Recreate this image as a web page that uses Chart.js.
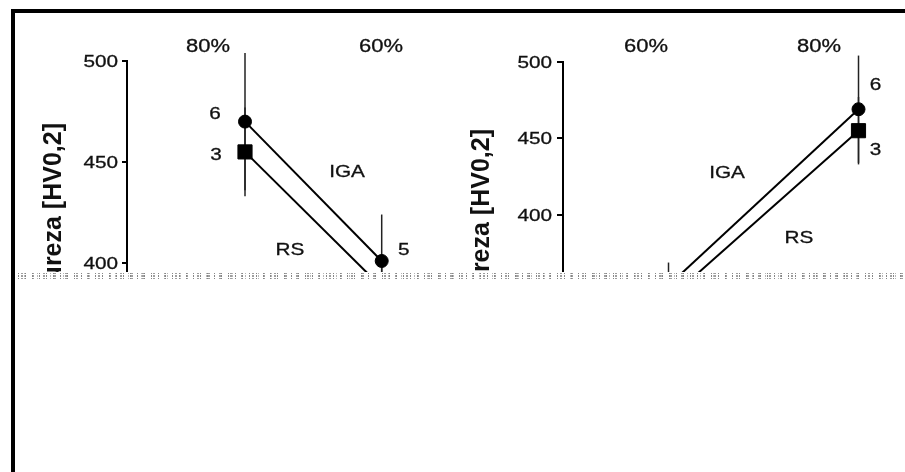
<!DOCTYPE html>
<html>
<head>
<meta charset="utf-8">
<script src="https://cdn.jsdelivr.net/npm/chart.js@4.4.0/dist/chart.umd.min.js"></script>
<style>
  html, body { margin: 0; padding: 0; background: #fff; }
  body { width: 905px; height: 472px; position: relative; overflow: hidden; }
  #frame {
    position: absolute; left: 11px; top: 9px; width: 894px; height: 463px;
    border-left: 4px solid #000; border-top: 4px solid #000; box-sizing: border-box;
  }
  .panel { position: absolute; top: 13px; height: 259px; overflow: hidden; }
  #left-wrap { left: 15px; width: 440px; }
  #right-wrap { left: 455px; width: 450px; }
  #noise {
    position: absolute; left: 15px; top: 272px; width: 890px; height: 7px; opacity: 0.7;
    background-image:
      repeating-linear-gradient(90deg, transparent 0 3px, #555 3px 4px, transparent 4px 7px),
      repeating-linear-gradient(90deg, transparent 0 6px, #777 6px 8px, transparent 8px 11px),
      repeating-linear-gradient(90deg, transparent 0 9px, #999 9px 10px, transparent 10px 13px);
    -webkit-mask-image: repeating-linear-gradient(0deg, #000 0 1px, transparent 1px 2px, #000 2px 4px, transparent 4px 5px);
  }
</style>
</head>
<body>
<div id="frame"></div>
<div class="panel" id="left-wrap"><canvas id="left" width="440" height="460"></canvas></div>
<div class="panel" id="right-wrap"><canvas id="right" width="450" height="460"></canvas></div>
<div id="noise"></div>
<script>
// left panel: 80% -> 60%
const pctLeft = ["80%", "60%"];
const igaLeft = [470, 401];
const igaLeftErr = [34, 23];
const rsLeft = [455, 388];
const rsLeftErr = [22, 10];
const nIgaLeft = ["6", "5"];
const nRsLeft = ["3", null];

// right panel: 60% -> 80%
const pctRight = ["60%", "80%"];
const igaRight = [354, 469];
const igaRightErr = [15, 35];
const rsRight = [345, 455];
const rsRightErr = [12, 22];
const nIgaRight = [null, "6"];
const nRsRight = [null, "3"];

const yTitle = "Dureza [HV0,2]";

// stretched sans text, the scanned figure is wider than plain Arial
function wideText(ctx, s, x, y, align) {
  ctx.save();
  ctx.translate(x, y);
  ctx.scale(1.22, 1);
  ctx.textAlign = align || "center";
  ctx.textBaseline = "alphabetic";
  ctx.fillText(s, 0, 6);
  ctx.strokeText(s, 0, 6);
  ctx.restore();
}

const extras = {
  id: "extras",
  beforeDatasetsDraw(chart, args, o) {
    const ctx = chart.ctx, xs = chart.scales.x, ys = chart.scales.y;
    ctx.save();
    ctx.strokeStyle = "#222";
    ctx.lineWidth = 1.5;
    chart.data.datasets.forEach(ds => {
      ds.data.forEach((p, i) => {
        const e = ds.err[i];
        const px = xs.getPixelForValue(p.x);
        ctx.beginPath();
        ctx.moveTo(px, ys.getPixelForValue(p.y + e));
        ctx.lineTo(px, ys.getPixelForValue(p.y - e));
        ctx.stroke();
      });
    });
    ctx.restore();
  },
  afterDraw(chart, args, o) {
    const ctx = chart.ctx, xs = chart.scales.x, ys = chart.scales.y;
    ctx.save();
    ctx.fillStyle = "#111";
    ctx.strokeStyle = "#111";
    ctx.lineWidth = 0.3;
    ctx.font = "17px 'Liberation Sans', Arial, sans-serif";
    // y tick labels
    ys.ticks.forEach(t => {
      wideText(ctx, String(t.value), chart.chartArea.left - o.tickGap, ys.getPixelForValue(t.value), "right");
    });
    // n per point
    chart.data.datasets.forEach((ds, d) => {
      ds.data.forEach((p, i) => {
        if (!ds.n[i]) return;
        const off = o.nOff[d][i];
        wideText(ctx, ds.n[i], xs.getPixelForValue(p.x) + off[0], ys.getPixelForValue(p.y) + off[1]);
      });
    });
    // series names
    o.names.forEach(t => wideText(ctx, t.s, t.x, t.y));
    // percentages on top
    ctx.font = "18px 'Liberation Sans', Arial, sans-serif";
    o.pct.forEach((s, i) => wideText(ctx, s, o.pctX[i], o.pctY));
    // y title
    ctx.font = "bold 25px 'Liberation Sans', Arial, sans-serif";
    ctx.translate(o.titleX, o.titleY);
    ctx.rotate(-Math.PI / 2);
    ctx.textAlign = "right";
    ctx.textBaseline = "alphabetic";
    ctx.fillText(yTitle, 0, 0);
    ctx.restore();
  }
};

function series(vals, err, n, style, r) {
  return {
    data: vals.map((v, i) => ({ x: i + 1, y: v })),
    err: err,
    n: n,
    borderColor: "#000",
    borderWidth: 2,
    pointStyle: style,
    pointRadius: r,
    pointBackgroundColor: "#000",
    pointBorderColor: "#000",
    pointBorderWidth: 1,
    tension: 0,
    clip: false
  };
}

function panel(id, sets, xr, yr, pad, axisW, tickLen, extraOpts) {
  return new Chart(document.getElementById(id), {
    type: "line",
    data: { datasets: sets },
    plugins: [extras],
    options: {
      responsive: false,
      animation: false,
      layout: { autoPadding: false, padding: { left: 0, right: 0, top: pad[0], bottom: pad[1] } },
      plugins: { legend: { display: false }, tooltip: { enabled: false }, extras: extraOpts },
      scales: {
        x: { type: "linear", display: false, min: xr[0], max: xr[1] },
        y: {
          min: yr[0], max: yr[1],
          afterFit: s => { s.width = axisW; },
          ticks: { stepSize: 50, display: false },
          border: { display: true, color: "#000", width: 2 },
          grid: { drawOnChartArea: false, drawTicks: true, tickLength: tickLen, color: "#000", lineWidth: 2 }
        }
      }
    }
  });
}

panel("left",
  [series(igaLeft, igaLeftErr, nIgaLeft, "circle", 6.5), series(rsLeft, rsLeftErr, nRsLeft, "rect", 10)],
  [0.1368, 2.5362], [300, 500], [48, 8], 112, 5,
  {
    tickGap: 9,
    pct: pctLeft, pctX: [193, 366], pctY: 33,
    nOff: [[[-30, -9], [22, -12]], [[-29, 2], [0, 0]]],
    names: [{ s: "IGA", x: 332, y: 158 }, { s: "RS", x: 275, y: 236 }],
    titleX: 46, titleY: 110
  });

panel("right",
  [series(igaRight, igaRightErr, nIgaRight, "circle", 6.5), series(rsRight, rsRightErr, nRsRight, "rect", 10)],
  [0.4447, 2.2447], [250, 500], [48.7, 28], 108, 6,
  {
    tickGap: 11,
    pct: pctRight, pctX: [191, 364], pctY: 33,
    nOff: [[[0, 0], [17, -25]], [[0, 0], [17, 18]]],
    names: [{ s: "IGA", x: 272, y: 159 }, { s: "RS", x: 344, y: 224 }],
    titleX: 34, titleY: 116
  });
</script>
</body>
</html>
